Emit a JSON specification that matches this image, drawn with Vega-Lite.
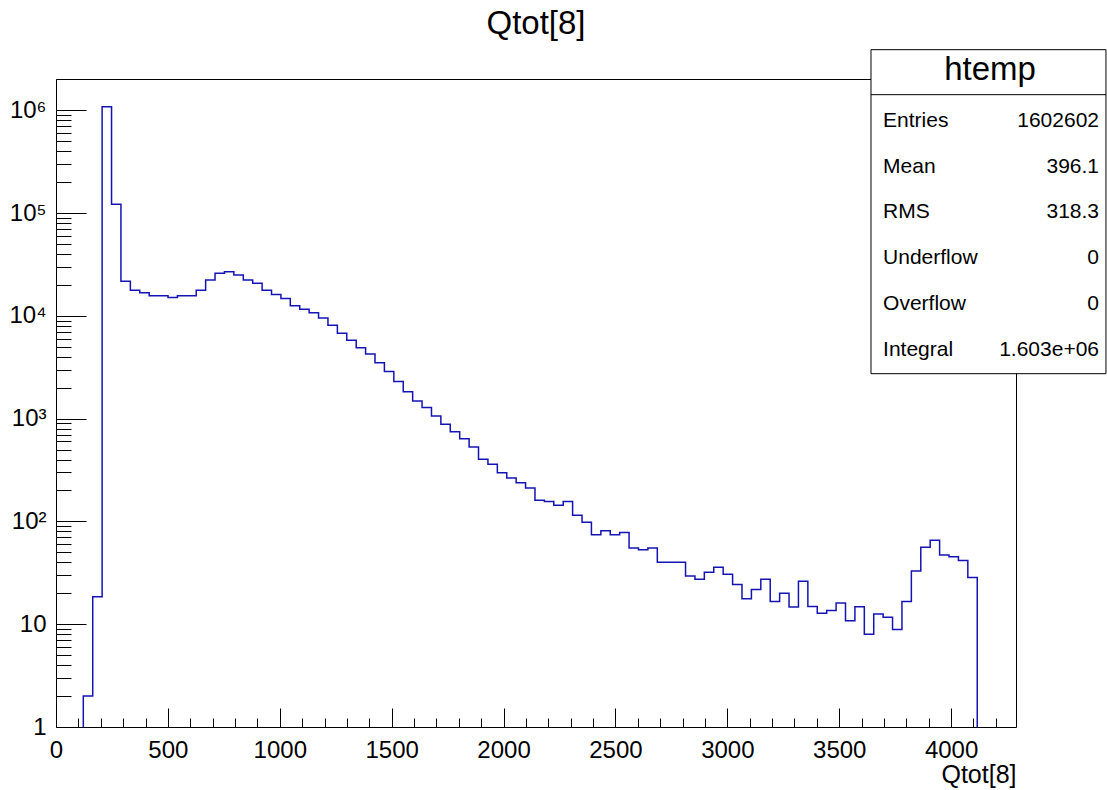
{
  "$schema": "https://vega.github.io/schema/vega-lite/v6.json",
  "width": 960,
  "height": 648,
  "autosize": "none",
  "padding": {"left": 56, "top": 79, "right": 91, "bottom": 63},
  "background": "white",
  "config": {
    "font": "Liberation Sans",
    "view": {"stroke": "black", "strokeWidth": 1},
    "axis": {"grid": false, "domain": false, "tickColor": "black", "tickWidth": 1, "labelColor": "black", "labelFont": "Liberation Sans", "titleFont": "Liberation Sans", "titleColor": "black", "titleFontWeight": "normal"}
  },
  "title": {"text": "Qtot[8]", "fontSize": 33, "fontWeight": "normal", "color": "black", "anchor": "middle", "offset": 8, "font": "Liberation Sans"},
  "datasets": {
    "hist": [
      {"i": 0, "x": 122, "n": 1},
      {"i": 1, "x": 122, "n": 2},
      {"i": 2, "x": 164.1, "n": 18.5},
      {"i": 3, "x": 206.1, "n": 1080000},
      {"i": 4, "x": 248.2, "n": 122000},
      {"i": 5, "x": 290.2, "n": 21700},
      {"i": 6, "x": 332.3, "n": 17700},
      {"i": 7, "x": 374.3, "n": 16800},
      {"i": 8, "x": 416.4, "n": 15700},
      {"i": 9, "x": 458.4, "n": 15700},
      {"i": 10, "x": 500.5, "n": 15100},
      {"i": 11, "x": 542.5, "n": 15700},
      {"i": 12, "x": 584.6, "n": 15700},
      {"i": 13, "x": 626.6, "n": 17700},
      {"i": 14, "x": 668.7, "n": 22300},
      {"i": 15, "x": 710.7, "n": 25900},
      {"i": 16, "x": 752.8, "n": 26900},
      {"i": 17, "x": 794.8, "n": 24900},
      {"i": 18, "x": 836.9, "n": 22300},
      {"i": 19, "x": 878.9, "n": 20700},
      {"i": 20, "x": 921.0, "n": 17700},
      {"i": 21, "x": 963, "n": 16100},
      {"i": 22, "x": 1005.1, "n": 14700},
      {"i": 23, "x": 1047.1, "n": 12500},
      {"i": 24, "x": 1089.2, "n": 11600},
      {"i": 25, "x": 1131.2, "n": 10700},
      {"i": 26, "x": 1173.3, "n": 9500},
      {"i": 27, "x": 1215.3, "n": 8100},
      {"i": 28, "x": 1257.4, "n": 6750},
      {"i": 29, "x": 1299.4, "n": 5780},
      {"i": 30, "x": 1341.5, "n": 4900},
      {"i": 31, "x": 1383.5, "n": 4250},
      {"i": 32, "x": 1425.6, "n": 3500},
      {"i": 33, "x": 1467.6, "n": 2870},
      {"i": 34, "x": 1509.7, "n": 2290},
      {"i": 35, "x": 1551.7, "n": 1820},
      {"i": 36, "x": 1593.8, "n": 1480},
      {"i": 37, "x": 1635.8, "n": 1280},
      {"i": 38, "x": 1677.9, "n": 1060},
      {"i": 39, "x": 1719.9, "n": 880},
      {"i": 40, "x": 1762.0, "n": 747},
      {"i": 41, "x": 1804, "n": 638},
      {"i": 42, "x": 1846.1, "n": 530},
      {"i": 43, "x": 1888.1, "n": 402},
      {"i": 44, "x": 1930.2, "n": 359},
      {"i": 45, "x": 1972.2, "n": 298},
      {"i": 46, "x": 2014.3, "n": 264},
      {"i": 47, "x": 2056.3, "n": 238},
      {"i": 48, "x": 2098.4, "n": 211},
      {"i": 49, "x": 2140.4, "n": 161},
      {"i": 50, "x": 2182.5, "n": 156},
      {"i": 51, "x": 2224.5, "n": 144},
      {"i": 52, "x": 2266.6, "n": 156},
      {"i": 53, "x": 2308.6, "n": 115},
      {"i": 54, "x": 2350.7, "n": 98},
      {"i": 55, "x": 2392.7, "n": 74},
      {"i": 56, "x": 2434.8, "n": 81},
      {"i": 57, "x": 2476.8, "n": 74},
      {"i": 58, "x": 2518.9, "n": 78},
      {"i": 59, "x": 2560.9, "n": 55},
      {"i": 60, "x": 2603.0, "n": 53},
      {"i": 61, "x": 2645, "n": 55},
      {"i": 62, "x": 2687.1, "n": 40},
      {"i": 63, "x": 2729.1, "n": 40},
      {"i": 64, "x": 2771.2, "n": 40},
      {"i": 65, "x": 2813.2, "n": 29.4},
      {"i": 66, "x": 2855.3, "n": 27.3},
      {"i": 67, "x": 2897.3, "n": 32},
      {"i": 68, "x": 2939.4, "n": 35.8},
      {"i": 69, "x": 2981.4, "n": 30.6},
      {"i": 70, "x": 3023.5, "n": 24.3},
      {"i": 71, "x": 3065.5, "n": 17.7},
      {"i": 72, "x": 3107.6, "n": 21.7},
      {"i": 73, "x": 3149.6, "n": 27.3},
      {"i": 74, "x": 3191.7, "n": 16.6},
      {"i": 75, "x": 3233.7, "n": 20},
      {"i": 76, "x": 3275.8, "n": 14.7},
      {"i": 77, "x": 3317.8, "n": 26.1},
      {"i": 78, "x": 3359.9, "n": 14.9},
      {"i": 79, "x": 3401.9, "n": 12.8},
      {"i": 80, "x": 3444.0, "n": 13.6},
      {"i": 81, "x": 3486, "n": 16.1},
      {"i": 82, "x": 3528.1, "n": 10.8},
      {"i": 83, "x": 3570.1, "n": 14.8},
      {"i": 84, "x": 3612.2, "n": 8},
      {"i": 85, "x": 3654.2, "n": 12.6},
      {"i": 86, "x": 3696.3, "n": 11.7},
      {"i": 87, "x": 3738.3, "n": 8.9},
      {"i": 88, "x": 3780.4, "n": 16.6},
      {"i": 89, "x": 3822.4, "n": 33},
      {"i": 90, "x": 3864.5, "n": 56},
      {"i": 91, "x": 3906.5, "n": 65.5},
      {"i": 92, "x": 3948.6, "n": 47},
      {"i": 93, "x": 3990.6, "n": 45.4},
      {"i": 94, "x": 4032.7, "n": 41.6},
      {"i": 95, "x": 4074.7, "n": 28.4},
      {"i": 96, "x": 4116.8, "n": 1}
    ],
    "stats": [
      {"stat": "Entries", "value": "1602602"},
      {"stat": "Mean", "value": "396.1"},
      {"stat": "RMS", "value": "318.3"},
      {"stat": "Underflow", "value": "0"},
      {"stat": "Overflow", "value": "0"},
      {"stat": "Integral", "value": "1.603e+06"}
    ]
  },
  "layer": [
    {
      "layer": [
        {
          "data": {"name": "hist"},
          "mark": {"type": "line", "interpolate": "step-after", "color": "#1414b4", "strokeWidth": 1.5},
          "encoding": {
            "x": {
              "field": "x", "type": "quantitative",
              "scale": {"domain": [0, 4290], "nice": false, "zero": false},
              "axis": {"orient": "bottom", "values": [0, 500, 1000, 1500, 2000, 2500, 3000, 3500, 4000], "tickSize": -19, "labelPadding": 30, "labelFontSize": 24, "labelFlush": false, "labelOverlap": false, "format": "d", "title": "Qtot[8]", "titleAnchor": "end", "titleAlign": "right", "titleFontSize": 25, "titlePadding": 0}
            },
            "y": {
              "field": "n", "type": "quantitative",
              "scale": {"type": "log", "domain": [1, 2012000], "nice": false},
              "axis": {"orient": "left", "values": [1, 10, 100, 1000, 10000, 100000, 1000000], "tickSize": -30, "labelPadding": 40, "labelFontSize": 24, "labelFlush": false, "labelOverlap": false, "labelExpr": "datum.value < 2 ? '1' : datum.value < 20 ? '10' : datum.value < 200 ? '10²' : datum.value < 2000 ? '10³' : datum.value < 20000 ? '10⁴' : datum.value < 200000 ? '10⁵' : '10⁶'", "title": null}
            },
            "order": {"field": "i", "type": "quantitative"}
          }
        },
        {
          "data": {"values": [{}]},
          "mark": {"type": "rect", "fill": "white", "stroke": "black", "strokeWidth": 1},
          "encoding": {
            "x": {"datum": 3642, "type": "quantitative", "axis": {"orient": "bottom", "values": [100, 200, 300, 400, 600, 700, 800, 900, 1100, 1200, 1300, 1400, 1600, 1700, 1800, 1900, 2100, 2200, 2300, 2400, 2600, 2700, 2800, 2900, 3100, 3200, 3300, 3400, 3600, 3700, 3800, 3900, 4100, 4200], "tickSize": -9, "labels": false, "title": null}},
            "x2": {"datum": 4692},
            "y": {"datum": 3880000, "type": "quantitative", "axis": {"orient": "left", "values": [2, 3, 4, 5, 6, 7, 8, 9, 20, 30, 40, 50, 60, 70, 80, 90, 200, 300, 400, 500, 600, 700, 800, 900, 2000, 3000, 4000, 5000, 6000, 7000, 8000, 9000, 20000, 30000, 40000, 50000, 60000, 70000, 80000, 90000, 200000, 300000, 400000, 500000, 600000, 700000, 800000, 900000, 2000000], "tickSize": -15, "labels": false, "title": null}},
            "y2": {"datum": 2735}
          }
        },
        {
          "data": {"values": [{}]},
          "mark": {"type": "rule", "color": "black", "strokeWidth": 1},
          "encoding": {
            "x": {"datum": 3642, "type": "quantitative", "axis": null},
            "x2": {"datum": 4692},
            "y": {"datum": 1416000, "type": "quantitative", "axis": null}
          }
        },
        {
          "data": {"values": [{"name": "htemp"}]},
          "mark": {"type": "text", "fontSize": 33, "align": "center", "baseline": "alphabetic", "color": "black"},
          "encoding": {
            "x": {"datum": 4174, "type": "quantitative", "axis": null},
            "y": {"datum": 1980000, "type": "quantitative", "axis": null},
            "text": {"field": "name"}
          }
        }
      ],
      "resolve": {"axis": {"x": "independent", "y": "independent"}}
    },
    {
      "data": {"name": "stats"},
      "encoding": {
        "y": {"field": "stat", "type": "nominal", "scale": {"type": "point", "domain": ["Entries", "Mean", "RMS", "Underflow", "Overflow", "Integral"], "range": [41.7, 270.7], "padding": 0}, "axis": null}
      },
      "layer": [
        {
          "mark": {"type": "text", "fontSize": 21, "align": "left", "baseline": "middle", "color": "black"},
          "encoding": {
            "x": {"datum": 3696, "type": "quantitative", "axis": null},
            "text": {"field": "stat"}
          }
        },
        {
          "mark": {"type": "text", "fontSize": 21, "align": "right", "baseline": "middle", "color": "black"},
          "encoding": {
            "x": {"datum": 4661, "type": "quantitative", "axis": null},
            "text": {"field": "value"}
          }
        }
      ]
    }
  ],
  "resolve": {"scale": {"y": "independent"}, "axis": {"x": "independent", "y": "independent"}}
}
